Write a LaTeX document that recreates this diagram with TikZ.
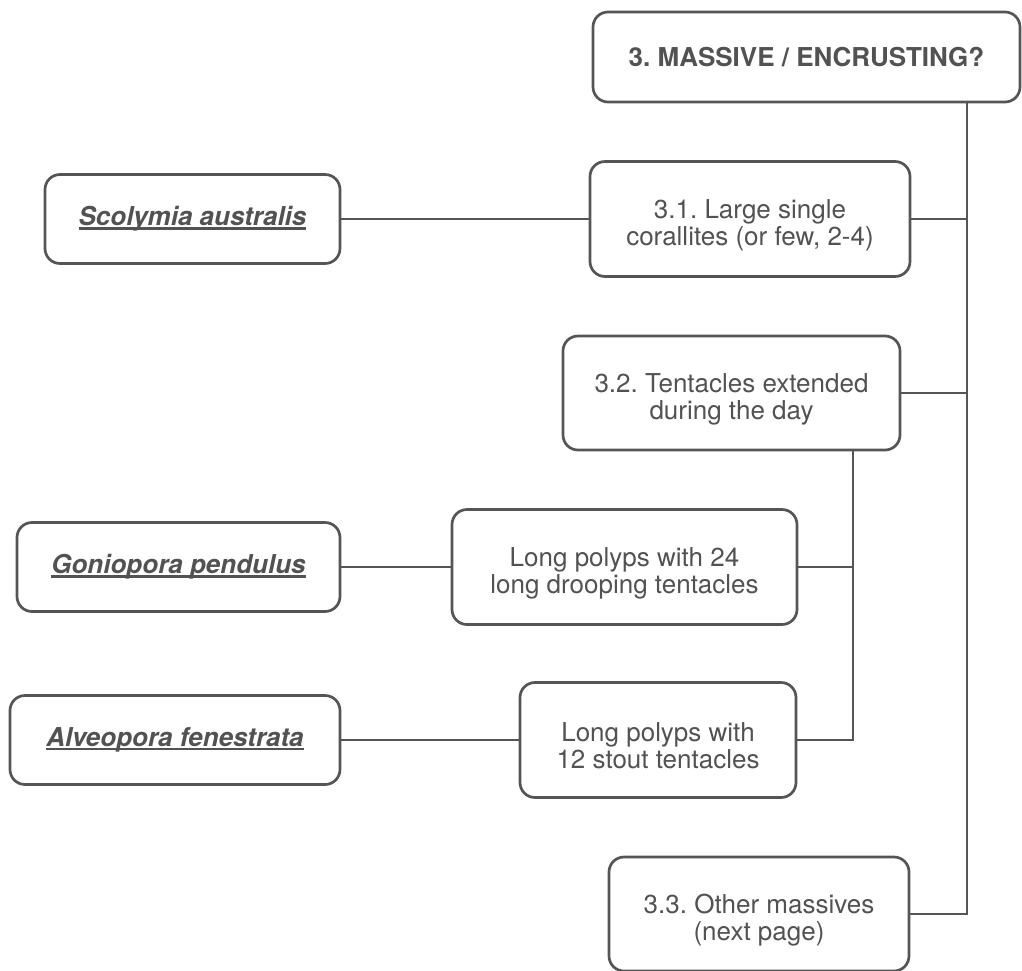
\documentclass[tikz,border=0pt]{standalone}
\usepackage{fontspec}
\setmainfont{TeX Gyre Heros}
\frenchspacing
\definecolor{boxline}{HTML}{555555}
\definecolor{boxtext}{HTML}{525252}
\newcommand\sciname[1]{\setbox0\hbox{#1}\rlap{\color{boxtext}\vrule height -1.6pt depth 3.8pt width \wd0}\box0}
\newcommand\padtop{\rule{0pt}{31pt}}
\tikzset{
  keybox/.style={draw=boxline, line width=2.7pt, rounded corners=15pt, fill=white,
    align=center, text=boxtext, inner sep=0pt, font=\fontsize{26}{27}\selectfont},
  species/.style={keybox, font=\fontsize{26}{27}\selectfont\bfseries\itshape},
  link/.style={draw=boxline, line width=2.7pt},
}
\begin{document}
\begin{tikzpicture}[x=1pt, y=-1pt]
    \useasboundingbox (0,0) rectangle (1022,970);

    % Main question
    \node[keybox, font=\fontsize{26}{27}\selectfont\bfseries, minimum width=427pt, minimum height=90pt] (massive) at (806.5,57) {3. MASSIVE / ENCRUSTING?};
    \coordinate (spine) at (967,0);

    % 3.1 single corallites
    \node[keybox, minimum width=320pt, minimum height=115pt] (single) at (750,219) {\padtop 3.1. Large single\\corallites (or few, 2-4)};
    \node[species, minimum width=295pt, minimum height=89pt] (scolymia) at (192.5,219) {\sciname{Scolymia australis}};

    % 3.2 tentacles by day
    \node[keybox, minimum width=337pt, minimum height=114pt] (tentacles) at (731.5,393) {\padtop 3.2. Tentacles extended\\during the day};
    \coordinate (subspine) at (853,0);

    \node[keybox, minimum width=345pt, minimum height=115pt] (drooping) at (624.5,567) {\padtop Long polyps with 24\\long drooping tentacles};
    \node[species, minimum width=323pt, minimum height=89pt] (goniopora) at (178.5,567) {\sciname{Goniopora pendulus}};

    \node[keybox, minimum width=276pt, minimum height=115pt] (stout) at (658,740) {\padtop Long polyps with\\12 stout tentacles};
    \node[species, minimum width=330pt, minimum height=89pt] (alveopora) at (175,740) {\sciname{Alveopora fenestrata}};

    % 3.3 others
    \node[keybox, minimum width=300pt, minimum height=114pt] (others) at (759,914) {\padtop 3.3. Other massives\\(next page)};

    % Connectors
    \draw[link] (massive.south -| spine) |- (others.east);
    \draw[link] (single.east) -- (single.east -| spine);
    \draw[link] (tentacles.east) -- (tentacles.east -| spine);
    \draw[link] (scolymia.east) -- (single.west);

    \draw[link] (tentacles.south -| subspine) |- (stout.east);
    \draw[link] (drooping.east) -- (drooping.east -| subspine);
    \draw[link] (goniopora.east) -- (drooping.west);
    \draw[link] (alveopora.east) -- (stout.west);
\end{tikzpicture}
\end{document}
